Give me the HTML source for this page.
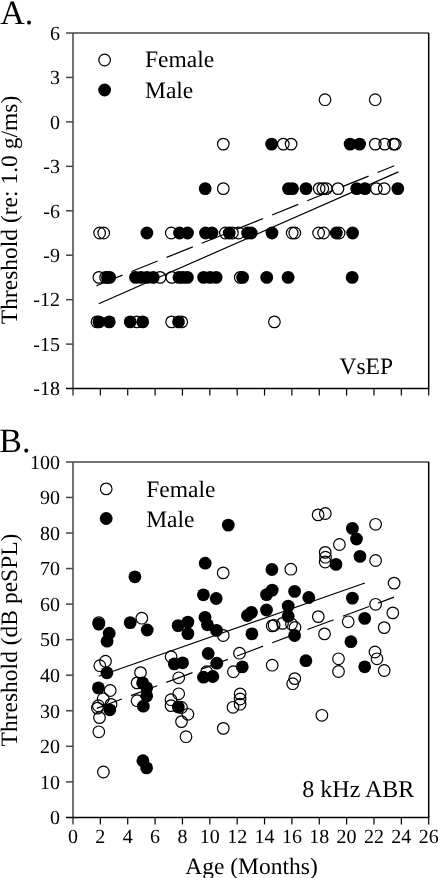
<!DOCTYPE html>
<html><head><meta charset="utf-8"><style>html,body{margin:0;padding:0;background:#fff;width:438px;height:878px;overflow:hidden}svg{display:block;will-change:transform}</style></head>
<body>
<svg width="438" height="878" viewBox="0 0 438 878">
<style>
text{font-family:"Liberation Serif",serif;fill:#000;text-rendering:geometricPrecision}
.tk{font-size:20px}
.lb{font-size:23.5px}
.pl{font-size:34px}
</style>
<rect width="438" height="878" fill="#fff"/>
<text x="0.3" y="23.6" class="pl">A.</text>
<text x="-0.8" y="452.4" class="pl">B.</text>
<line x1="73.0" y1="33.0" x2="73.0" y2="395.55" stroke="#444" stroke-width="1.5"/>
<line x1="66.0" y1="33.0" x2="428.9" y2="33.0" stroke="#444" stroke-width="1.5"/>
<line x1="428.7" y1="33.0" x2="428.7" y2="388.55" stroke="#000" stroke-width="1.5"/>
<line x1="66.0" y1="388.55" x2="429.4" y2="388.55" stroke="#000" stroke-width="1.5"/>
<text x="60" y="39.80" text-anchor="end" class="tk">6</text>
<line x1="66.0" y1="77.44" x2="73.0" y2="77.44" stroke="#444" stroke-width="1.5"/>
<text x="60" y="84.24" text-anchor="end" class="tk">3</text>
<line x1="66.0" y1="121.89" x2="73.0" y2="121.89" stroke="#444" stroke-width="1.5"/>
<text x="60" y="128.69" text-anchor="end" class="tk">0</text>
<line x1="66.0" y1="166.33" x2="73.0" y2="166.33" stroke="#444" stroke-width="1.5"/>
<text x="60" y="173.13" text-anchor="end" class="tk">-3</text>
<line x1="66.0" y1="210.78" x2="73.0" y2="210.78" stroke="#444" stroke-width="1.5"/>
<text x="60" y="217.58" text-anchor="end" class="tk">-6</text>
<line x1="66.0" y1="255.22" x2="73.0" y2="255.22" stroke="#444" stroke-width="1.5"/>
<text x="60" y="262.02" text-anchor="end" class="tk">-9</text>
<line x1="66.0" y1="299.66" x2="73.0" y2="299.66" stroke="#444" stroke-width="1.5"/>
<text x="60" y="306.46" text-anchor="end" class="tk">-12</text>
<line x1="66.0" y1="344.11" x2="73.0" y2="344.11" stroke="#444" stroke-width="1.5"/>
<text x="60" y="350.91" text-anchor="end" class="tk">-15</text>
<text x="60" y="395.35" text-anchor="end" class="tk">-18</text>
<line x1="100.36" y1="388.55" x2="100.36" y2="395.55" stroke="#000" stroke-width="1.2"/>
<line x1="127.72" y1="388.55" x2="127.72" y2="395.55" stroke="#000" stroke-width="1.2"/>
<line x1="155.08" y1="388.55" x2="155.08" y2="395.55" stroke="#000" stroke-width="1.2"/>
<line x1="182.45" y1="388.55" x2="182.45" y2="395.55" stroke="#000" stroke-width="1.2"/>
<line x1="209.81" y1="388.55" x2="209.81" y2="395.55" stroke="#000" stroke-width="1.2"/>
<line x1="237.17" y1="388.55" x2="237.17" y2="395.55" stroke="#000" stroke-width="1.2"/>
<line x1="264.53" y1="388.55" x2="264.53" y2="395.55" stroke="#000" stroke-width="1.2"/>
<line x1="291.89" y1="388.55" x2="291.89" y2="395.55" stroke="#000" stroke-width="1.2"/>
<line x1="319.25" y1="388.55" x2="319.25" y2="395.55" stroke="#000" stroke-width="1.2"/>
<line x1="346.62" y1="388.55" x2="346.62" y2="395.55" stroke="#000" stroke-width="1.2"/>
<line x1="373.98" y1="388.55" x2="373.98" y2="395.55" stroke="#000" stroke-width="1.2"/>
<line x1="401.34" y1="388.55" x2="401.34" y2="395.55" stroke="#000" stroke-width="1.2"/>
<line x1="428.70" y1="388.55" x2="428.70" y2="395.55" stroke="#000" stroke-width="1.2"/>
<line x1="73.0" y1="461.9" x2="73.0" y2="824.4" stroke="#444" stroke-width="1.5"/>
<line x1="66.0" y1="461.9" x2="428.9" y2="461.9" stroke="#444" stroke-width="1.5"/>
<line x1="428.7" y1="461.9" x2="428.7" y2="817.4" stroke="#000" stroke-width="1.5"/>
<line x1="66.0" y1="817.4" x2="429.4" y2="817.4" stroke="#000" stroke-width="1.5"/>
<text x="60" y="468.70" text-anchor="end" class="tk">100</text>
<line x1="66.0" y1="497.45" x2="73.0" y2="497.45" stroke="#444" stroke-width="1.5"/>
<text x="60" y="504.25" text-anchor="end" class="tk">90</text>
<line x1="66.0" y1="533.00" x2="73.0" y2="533.00" stroke="#444" stroke-width="1.5"/>
<text x="60" y="539.80" text-anchor="end" class="tk">80</text>
<line x1="66.0" y1="568.55" x2="73.0" y2="568.55" stroke="#444" stroke-width="1.5"/>
<text x="60" y="575.35" text-anchor="end" class="tk">70</text>
<line x1="66.0" y1="604.10" x2="73.0" y2="604.10" stroke="#444" stroke-width="1.5"/>
<text x="60" y="610.90" text-anchor="end" class="tk">60</text>
<line x1="66.0" y1="639.65" x2="73.0" y2="639.65" stroke="#444" stroke-width="1.5"/>
<text x="60" y="646.45" text-anchor="end" class="tk">50</text>
<line x1="66.0" y1="675.20" x2="73.0" y2="675.20" stroke="#444" stroke-width="1.5"/>
<text x="60" y="682.00" text-anchor="end" class="tk">40</text>
<line x1="66.0" y1="710.75" x2="73.0" y2="710.75" stroke="#444" stroke-width="1.5"/>
<text x="60" y="717.55" text-anchor="end" class="tk">30</text>
<line x1="66.0" y1="746.30" x2="73.0" y2="746.30" stroke="#444" stroke-width="1.5"/>
<text x="60" y="753.10" text-anchor="end" class="tk">20</text>
<line x1="66.0" y1="781.85" x2="73.0" y2="781.85" stroke="#444" stroke-width="1.5"/>
<text x="60" y="788.65" text-anchor="end" class="tk">10</text>
<text x="60" y="824.20" text-anchor="end" class="tk">0</text>
<line x1="100.36" y1="817.4" x2="100.36" y2="824.4" stroke="#000" stroke-width="1.2"/>
<line x1="127.72" y1="817.4" x2="127.72" y2="824.4" stroke="#000" stroke-width="1.2"/>
<line x1="155.08" y1="817.4" x2="155.08" y2="824.4" stroke="#000" stroke-width="1.2"/>
<line x1="182.45" y1="817.4" x2="182.45" y2="824.4" stroke="#000" stroke-width="1.2"/>
<line x1="209.81" y1="817.4" x2="209.81" y2="824.4" stroke="#000" stroke-width="1.2"/>
<line x1="237.17" y1="817.4" x2="237.17" y2="824.4" stroke="#000" stroke-width="1.2"/>
<line x1="264.53" y1="817.4" x2="264.53" y2="824.4" stroke="#000" stroke-width="1.2"/>
<line x1="291.89" y1="817.4" x2="291.89" y2="824.4" stroke="#000" stroke-width="1.2"/>
<line x1="319.25" y1="817.4" x2="319.25" y2="824.4" stroke="#000" stroke-width="1.2"/>
<line x1="346.62" y1="817.4" x2="346.62" y2="824.4" stroke="#000" stroke-width="1.2"/>
<line x1="373.98" y1="817.4" x2="373.98" y2="824.4" stroke="#000" stroke-width="1.2"/>
<line x1="401.34" y1="817.4" x2="401.34" y2="824.4" stroke="#000" stroke-width="1.2"/>
<line x1="428.70" y1="817.4" x2="428.70" y2="824.4" stroke="#000" stroke-width="1.2"/>
<text x="73.00" y="843.4" text-anchor="middle" class="tk">0</text>
<text x="100.36" y="843.4" text-anchor="middle" class="tk">2</text>
<text x="127.72" y="843.4" text-anchor="middle" class="tk">4</text>
<text x="155.08" y="843.4" text-anchor="middle" class="tk">6</text>
<text x="182.45" y="843.4" text-anchor="middle" class="tk">8</text>
<text x="209.81" y="843.4" text-anchor="middle" class="tk">10</text>
<text x="237.17" y="843.4" text-anchor="middle" class="tk">12</text>
<text x="264.53" y="843.4" text-anchor="middle" class="tk">14</text>
<text x="291.89" y="843.4" text-anchor="middle" class="tk">16</text>
<text x="319.25" y="843.4" text-anchor="middle" class="tk">18</text>
<text x="346.62" y="843.4" text-anchor="middle" class="tk">20</text>
<text x="373.98" y="843.4" text-anchor="middle" class="tk">22</text>
<text x="401.34" y="843.4" text-anchor="middle" class="tk">24</text>
<text x="428.70" y="843.4" text-anchor="middle" class="tk">26</text>
<text transform="translate(17.2,210) rotate(-90)" text-anchor="middle" class="lb">Threshold (re: 1.0 g/ms)</text>
<text transform="translate(16.9,640) rotate(-90)" text-anchor="middle" class="lb">Threshold (dB peSPL)</text>
<text x="251.5" y="873.5" text-anchor="middle" class="lb">Age (Months)</text>
<text x="339.5" y="374.2" class="lb">VsEP</text>
<text x="302.3" y="797.2" class="lb" style="font-size:24px">8 kHz ABR</text>
<circle cx="104.6" cy="60" r="5.8" fill="none" stroke="#000" stroke-width="1.2"/>
<circle cx="104.6" cy="90" r="6.4" fill="#000"/>
<text x="145" y="67.4" class="lb">Female</text>
<text x="145" y="97.6" class="lb">Male</text>
<circle cx="106.2" cy="488.9" r="5.8" fill="none" stroke="#000" stroke-width="1.2"/>
<circle cx="106.2" cy="518.5" r="6.4" fill="#000"/>
<text x="146.2" y="496.9" class="lb">Female</text>
<text x="146.2" y="527.1" class="lb">Male</text>
<line x1="98.7" y1="303.8" x2="398.4" y2="171.9" stroke="#000" stroke-width="1.2"/>
<line x1="96.3" y1="285.7" x2="394.2" y2="165.8" stroke="#000" stroke-width="1.2" stroke-dasharray="28.2 9.7" stroke-dashoffset="0"/>
<circle cx="325.0" cy="99.7" r="5.8" fill="none" stroke="#000" stroke-width="1.2"/>
<circle cx="375.2" cy="99.7" r="5.8" fill="none" stroke="#000" stroke-width="1.2"/>
<circle cx="223.3" cy="144.1" r="5.8" fill="none" stroke="#000" stroke-width="1.2"/>
<circle cx="283.3" cy="144.1" r="5.8" fill="none" stroke="#000" stroke-width="1.2"/>
<circle cx="291.1" cy="144.1" r="5.8" fill="none" stroke="#000" stroke-width="1.2"/>
<circle cx="375.3" cy="144.1" r="5.8" fill="none" stroke="#000" stroke-width="1.2"/>
<circle cx="384.7" cy="144.1" r="5.8" fill="none" stroke="#000" stroke-width="1.2"/>
<circle cx="393.5" cy="144.1" r="5.8" fill="none" stroke="#000" stroke-width="1.2"/>
<circle cx="395.2" cy="144.1" r="5.8" fill="none" stroke="#000" stroke-width="1.2"/>
<circle cx="223.3" cy="188.6" r="5.8" fill="none" stroke="#000" stroke-width="1.2"/>
<circle cx="319.2" cy="188.6" r="5.8" fill="none" stroke="#000" stroke-width="1.2"/>
<circle cx="322.8" cy="188.6" r="5.8" fill="none" stroke="#000" stroke-width="1.2"/>
<circle cx="326.3" cy="188.6" r="5.8" fill="none" stroke="#000" stroke-width="1.2"/>
<circle cx="338.0" cy="188.6" r="5.8" fill="none" stroke="#000" stroke-width="1.2"/>
<circle cx="376.3" cy="188.6" r="5.8" fill="none" stroke="#000" stroke-width="1.2"/>
<circle cx="384.2" cy="188.6" r="5.8" fill="none" stroke="#000" stroke-width="1.2"/>
<circle cx="99.6" cy="233.0" r="5.8" fill="none" stroke="#000" stroke-width="1.2"/>
<circle cx="103.7" cy="233.0" r="5.8" fill="none" stroke="#000" stroke-width="1.2"/>
<circle cx="171.3" cy="233.0" r="5.8" fill="none" stroke="#000" stroke-width="1.2"/>
<circle cx="225.4" cy="233.0" r="5.8" fill="none" stroke="#000" stroke-width="1.2"/>
<circle cx="232.4" cy="233.0" r="5.8" fill="none" stroke="#000" stroke-width="1.2"/>
<circle cx="238.5" cy="233.0" r="5.8" fill="none" stroke="#000" stroke-width="1.2"/>
<circle cx="292.2" cy="233.0" r="5.8" fill="none" stroke="#000" stroke-width="1.2"/>
<circle cx="294.8" cy="233.0" r="5.8" fill="none" stroke="#000" stroke-width="1.2"/>
<circle cx="318.6" cy="233.0" r="5.8" fill="none" stroke="#000" stroke-width="1.2"/>
<circle cx="323.6" cy="233.0" r="5.8" fill="none" stroke="#000" stroke-width="1.2"/>
<circle cx="339.1" cy="233.0" r="5.8" fill="none" stroke="#000" stroke-width="1.2"/>
<circle cx="98.9" cy="277.4" r="5.8" fill="none" stroke="#000" stroke-width="1.2"/>
<circle cx="105.6" cy="277.4" r="5.8" fill="none" stroke="#000" stroke-width="1.2"/>
<circle cx="160.0" cy="277.4" r="5.8" fill="none" stroke="#000" stroke-width="1.2"/>
<circle cx="171.8" cy="277.4" r="5.8" fill="none" stroke="#000" stroke-width="1.2"/>
<circle cx="240.3" cy="277.4" r="5.8" fill="none" stroke="#000" stroke-width="1.2"/>
<circle cx="97.0" cy="321.9" r="5.8" fill="none" stroke="#000" stroke-width="1.2"/>
<circle cx="137.0" cy="321.9" r="5.8" fill="none" stroke="#000" stroke-width="1.2"/>
<circle cx="171.6" cy="321.9" r="5.8" fill="none" stroke="#000" stroke-width="1.2"/>
<circle cx="181.7" cy="321.9" r="5.8" fill="none" stroke="#000" stroke-width="1.2"/>
<circle cx="274.4" cy="321.9" r="5.8" fill="none" stroke="#000" stroke-width="1.2"/>
<circle cx="271.6" cy="144.1" r="6.4" fill="#000"/>
<circle cx="350.1" cy="144.1" r="6.4" fill="#000"/>
<circle cx="359.6" cy="144.1" r="6.4" fill="#000"/>
<circle cx="205.2" cy="188.6" r="6.4" fill="#000"/>
<circle cx="288.5" cy="188.6" r="6.4" fill="#000"/>
<circle cx="292.5" cy="188.6" r="6.4" fill="#000"/>
<circle cx="306.0" cy="188.6" r="6.4" fill="#000"/>
<circle cx="356.7" cy="188.6" r="6.4" fill="#000"/>
<circle cx="365.0" cy="188.6" r="6.4" fill="#000"/>
<circle cx="397.8" cy="188.6" r="6.4" fill="#000"/>
<circle cx="146.9" cy="233.0" r="6.4" fill="#000"/>
<circle cx="179.5" cy="233.0" r="6.4" fill="#000"/>
<circle cx="187.5" cy="233.0" r="6.4" fill="#000"/>
<circle cx="205.5" cy="233.0" r="6.4" fill="#000"/>
<circle cx="212.0" cy="233.0" r="6.4" fill="#000"/>
<circle cx="229.2" cy="233.0" r="6.4" fill="#000"/>
<circle cx="247.6" cy="233.0" r="6.4" fill="#000"/>
<circle cx="251.2" cy="233.0" r="6.4" fill="#000"/>
<circle cx="272.0" cy="233.0" r="6.4" fill="#000"/>
<circle cx="336.3" cy="233.0" r="6.4" fill="#000"/>
<circle cx="352.6" cy="233.0" r="6.4" fill="#000"/>
<circle cx="107.5" cy="277.4" r="6.4" fill="#000"/>
<circle cx="109.6" cy="277.4" r="6.4" fill="#000"/>
<circle cx="135.5" cy="277.4" r="6.4" fill="#000"/>
<circle cx="141.0" cy="277.4" r="6.4" fill="#000"/>
<circle cx="147.0" cy="277.4" r="6.4" fill="#000"/>
<circle cx="153.2" cy="277.4" r="6.4" fill="#000"/>
<circle cx="179.0" cy="277.4" r="6.4" fill="#000"/>
<circle cx="183.0" cy="277.4" r="6.4" fill="#000"/>
<circle cx="187.4" cy="277.4" r="6.4" fill="#000"/>
<circle cx="203.6" cy="277.4" r="6.4" fill="#000"/>
<circle cx="210.0" cy="277.4" r="6.4" fill="#000"/>
<circle cx="216.1" cy="277.4" r="6.4" fill="#000"/>
<circle cx="242.6" cy="277.4" r="6.4" fill="#000"/>
<circle cx="266.7" cy="277.4" r="6.4" fill="#000"/>
<circle cx="288.1" cy="277.4" r="6.4" fill="#000"/>
<circle cx="352.2" cy="277.4" r="6.4" fill="#000"/>
<circle cx="98.9" cy="321.9" r="6.4" fill="#000"/>
<circle cx="109.3" cy="321.9" r="6.4" fill="#000"/>
<circle cx="130.2" cy="321.9" r="6.4" fill="#000"/>
<circle cx="142.7" cy="321.9" r="6.4" fill="#000"/>
<circle cx="178.5" cy="321.9" r="6.4" fill="#000"/>
<line x1="98.7" y1="676.3" x2="364.9" y2="583.0" stroke="#000" stroke-width="1.2"/>
<line x1="96.8" y1="708.4" x2="394.1" y2="597.1" stroke="#000" stroke-width="1.2" stroke-dasharray="28 9.7" stroke-dashoffset="1.2"/>
<circle cx="98.8" cy="622.6" r="5.8" fill="none" stroke="#000" stroke-width="1.2"/>
<circle cx="141.8" cy="618.2" r="5.8" fill="none" stroke="#000" stroke-width="1.2"/>
<circle cx="99.8" cy="665.7" r="5.8" fill="none" stroke="#000" stroke-width="1.2"/>
<circle cx="105.5" cy="661.2" r="5.8" fill="none" stroke="#000" stroke-width="1.2"/>
<circle cx="110.2" cy="690.5" r="5.8" fill="none" stroke="#000" stroke-width="1.2"/>
<circle cx="103.2" cy="698.7" r="5.8" fill="none" stroke="#000" stroke-width="1.2"/>
<circle cx="111.0" cy="704.4" r="5.8" fill="none" stroke="#000" stroke-width="1.2"/>
<circle cx="97.4" cy="708.1" r="5.8" fill="none" stroke="#000" stroke-width="1.2"/>
<circle cx="98.3" cy="705.7" r="5.8" fill="none" stroke="#000" stroke-width="1.2"/>
<circle cx="99.5" cy="717.6" r="5.8" fill="none" stroke="#000" stroke-width="1.2"/>
<circle cx="140.5" cy="672.6" r="5.8" fill="none" stroke="#000" stroke-width="1.2"/>
<circle cx="137.1" cy="682.9" r="5.8" fill="none" stroke="#000" stroke-width="1.2"/>
<circle cx="137.1" cy="700.7" r="5.8" fill="none" stroke="#000" stroke-width="1.2"/>
<circle cx="98.8" cy="731.8" r="5.8" fill="none" stroke="#000" stroke-width="1.2"/>
<circle cx="103.4" cy="772.0" r="5.8" fill="none" stroke="#000" stroke-width="1.2"/>
<circle cx="223.2" cy="572.9" r="5.8" fill="none" stroke="#000" stroke-width="1.2"/>
<circle cx="223.3" cy="635.5" r="5.8" fill="none" stroke="#000" stroke-width="1.2"/>
<circle cx="171.1" cy="656.7" r="5.8" fill="none" stroke="#000" stroke-width="1.2"/>
<circle cx="178.7" cy="677.8" r="5.8" fill="none" stroke="#000" stroke-width="1.2"/>
<circle cx="206.6" cy="671.7" r="5.8" fill="none" stroke="#000" stroke-width="1.2"/>
<circle cx="239.5" cy="653.2" r="5.8" fill="none" stroke="#000" stroke-width="1.2"/>
<circle cx="233.4" cy="671.7" r="5.8" fill="none" stroke="#000" stroke-width="1.2"/>
<circle cx="178.7" cy="693.8" r="5.8" fill="none" stroke="#000" stroke-width="1.2"/>
<circle cx="171.0" cy="699.7" r="5.8" fill="none" stroke="#000" stroke-width="1.2"/>
<circle cx="171.0" cy="705.6" r="5.8" fill="none" stroke="#000" stroke-width="1.2"/>
<circle cx="181.5" cy="707.5" r="5.8" fill="none" stroke="#000" stroke-width="1.2"/>
<circle cx="187.9" cy="714.3" r="5.8" fill="none" stroke="#000" stroke-width="1.2"/>
<circle cx="181.5" cy="721.6" r="5.8" fill="none" stroke="#000" stroke-width="1.2"/>
<circle cx="186.0" cy="736.7" r="5.8" fill="none" stroke="#000" stroke-width="1.2"/>
<circle cx="240.1" cy="693.9" r="5.8" fill="none" stroke="#000" stroke-width="1.2"/>
<circle cx="240.1" cy="699.0" r="5.8" fill="none" stroke="#000" stroke-width="1.2"/>
<circle cx="240.1" cy="704.2" r="5.8" fill="none" stroke="#000" stroke-width="1.2"/>
<circle cx="233.0" cy="707.3" r="5.8" fill="none" stroke="#000" stroke-width="1.2"/>
<circle cx="223.3" cy="728.4" r="5.8" fill="none" stroke="#000" stroke-width="1.2"/>
<circle cx="290.8" cy="569.2" r="5.8" fill="none" stroke="#000" stroke-width="1.2"/>
<circle cx="272.2" cy="625.9" r="5.8" fill="none" stroke="#000" stroke-width="1.2"/>
<circle cx="274.1" cy="625.3" r="5.8" fill="none" stroke="#000" stroke-width="1.2"/>
<circle cx="282.5" cy="623.4" r="5.8" fill="none" stroke="#000" stroke-width="1.2"/>
<circle cx="291.5" cy="624.0" r="5.8" fill="none" stroke="#000" stroke-width="1.2"/>
<circle cx="295.0" cy="627.5" r="5.8" fill="none" stroke="#000" stroke-width="1.2"/>
<circle cx="318.1" cy="514.9" r="5.8" fill="none" stroke="#000" stroke-width="1.2"/>
<circle cx="325.3" cy="513.5" r="5.8" fill="none" stroke="#000" stroke-width="1.2"/>
<circle cx="339.4" cy="544.5" r="5.8" fill="none" stroke="#000" stroke-width="1.2"/>
<circle cx="325.2" cy="552.4" r="5.8" fill="none" stroke="#000" stroke-width="1.2"/>
<circle cx="325.5" cy="557.2" r="5.8" fill="none" stroke="#000" stroke-width="1.2"/>
<circle cx="325.2" cy="562.0" r="5.8" fill="none" stroke="#000" stroke-width="1.2"/>
<circle cx="375.6" cy="524.3" r="5.8" fill="none" stroke="#000" stroke-width="1.2"/>
<circle cx="375.6" cy="560.5" r="5.8" fill="none" stroke="#000" stroke-width="1.2"/>
<circle cx="394.1" cy="583.1" r="5.8" fill="none" stroke="#000" stroke-width="1.2"/>
<circle cx="375.6" cy="604.3" r="5.8" fill="none" stroke="#000" stroke-width="1.2"/>
<circle cx="392.8" cy="612.9" r="5.8" fill="none" stroke="#000" stroke-width="1.2"/>
<circle cx="348.2" cy="621.8" r="5.8" fill="none" stroke="#000" stroke-width="1.2"/>
<circle cx="384.2" cy="627.6" r="5.8" fill="none" stroke="#000" stroke-width="1.2"/>
<circle cx="375.0" cy="652.0" r="5.8" fill="none" stroke="#000" stroke-width="1.2"/>
<circle cx="377.0" cy="658.8" r="5.8" fill="none" stroke="#000" stroke-width="1.2"/>
<circle cx="384.2" cy="670.5" r="5.8" fill="none" stroke="#000" stroke-width="1.2"/>
<circle cx="338.5" cy="658.8" r="5.8" fill="none" stroke="#000" stroke-width="1.2"/>
<circle cx="338.5" cy="671.5" r="5.8" fill="none" stroke="#000" stroke-width="1.2"/>
<circle cx="318.3" cy="616.6" r="5.8" fill="none" stroke="#000" stroke-width="1.2"/>
<circle cx="324.5" cy="633.9" r="5.8" fill="none" stroke="#000" stroke-width="1.2"/>
<circle cx="272.2" cy="665.2" r="5.8" fill="none" stroke="#000" stroke-width="1.2"/>
<circle cx="294.8" cy="678.6" r="5.8" fill="none" stroke="#000" stroke-width="1.2"/>
<circle cx="292.7" cy="683.7" r="5.8" fill="none" stroke="#000" stroke-width="1.2"/>
<circle cx="321.9" cy="715.3" r="5.8" fill="none" stroke="#000" stroke-width="1.2"/>
<circle cx="134.9" cy="576.8" r="6.4" fill="#000"/>
<circle cx="98.8" cy="624.1" r="6.4" fill="#000"/>
<circle cx="109.2" cy="633.2" r="6.4" fill="#000"/>
<circle cx="107.1" cy="641.2" r="6.4" fill="#000"/>
<circle cx="130.2" cy="622.6" r="6.4" fill="#000"/>
<circle cx="147.2" cy="630.0" r="6.4" fill="#000"/>
<circle cx="106.9" cy="672.8" r="6.4" fill="#000"/>
<circle cx="98.4" cy="687.9" r="6.4" fill="#000"/>
<circle cx="109.8" cy="709.8" r="6.4" fill="#000"/>
<circle cx="142.6" cy="682.9" r="6.4" fill="#000"/>
<circle cx="146.7" cy="687.7" r="6.4" fill="#000"/>
<circle cx="146.7" cy="695.9" r="6.4" fill="#000"/>
<circle cx="143.3" cy="706.2" r="6.4" fill="#000"/>
<circle cx="142.9" cy="760.7" r="6.4" fill="#000"/>
<circle cx="146.6" cy="767.9" r="6.4" fill="#000"/>
<circle cx="205.2" cy="563.2" r="6.4" fill="#000"/>
<circle cx="228.3" cy="525.1" r="6.4" fill="#000"/>
<circle cx="203.4" cy="594.8" r="6.4" fill="#000"/>
<circle cx="216.2" cy="598.5" r="6.4" fill="#000"/>
<circle cx="178.1" cy="625.6" r="6.4" fill="#000"/>
<circle cx="187.9" cy="622.1" r="6.4" fill="#000"/>
<circle cx="187.9" cy="633.6" r="6.4" fill="#000"/>
<circle cx="205.0" cy="617.3" r="6.4" fill="#000"/>
<circle cx="207.4" cy="624.8" r="6.4" fill="#000"/>
<circle cx="216.5" cy="630.4" r="6.4" fill="#000"/>
<circle cx="174.3" cy="663.9" r="6.4" fill="#000"/>
<circle cx="182.6" cy="662.8" r="6.4" fill="#000"/>
<circle cx="208.2" cy="653.5" r="6.4" fill="#000"/>
<circle cx="216.8" cy="663.2" r="6.4" fill="#000"/>
<circle cx="203.5" cy="677.2" r="6.4" fill="#000"/>
<circle cx="212.8" cy="676.5" r="6.4" fill="#000"/>
<circle cx="242.3" cy="666.9" r="6.4" fill="#000"/>
<circle cx="178.3" cy="707.0" r="6.4" fill="#000"/>
<circle cx="271.9" cy="569.5" r="6.4" fill="#000"/>
<circle cx="272.2" cy="590.1" r="6.4" fill="#000"/>
<circle cx="266.5" cy="594.6" r="6.4" fill="#000"/>
<circle cx="294.6" cy="591.4" r="6.4" fill="#000"/>
<circle cx="308.8" cy="597.5" r="6.4" fill="#000"/>
<circle cx="251.4" cy="612.4" r="6.4" fill="#000"/>
<circle cx="247.4" cy="615.5" r="6.4" fill="#000"/>
<circle cx="266.5" cy="610.0" r="6.4" fill="#000"/>
<circle cx="288.2" cy="606.1" r="6.4" fill="#000"/>
<circle cx="288.2" cy="616.3" r="6.4" fill="#000"/>
<circle cx="294.6" cy="635.5" r="6.4" fill="#000"/>
<circle cx="251.9" cy="633.9" r="6.4" fill="#000"/>
<circle cx="336.0" cy="564.4" r="6.4" fill="#000"/>
<circle cx="352.4" cy="528.4" r="6.4" fill="#000"/>
<circle cx="356.5" cy="539.0" r="6.4" fill="#000"/>
<circle cx="360.0" cy="556.4" r="6.4" fill="#000"/>
<circle cx="352.4" cy="598.1" r="6.4" fill="#000"/>
<circle cx="364.7" cy="618.4" r="6.4" fill="#000"/>
<circle cx="350.9" cy="641.7" r="6.4" fill="#000"/>
<circle cx="364.7" cy="666.8" r="6.4" fill="#000"/>
<circle cx="305.9" cy="660.7" r="6.4" fill="#000"/>
</svg>
</body></html>
